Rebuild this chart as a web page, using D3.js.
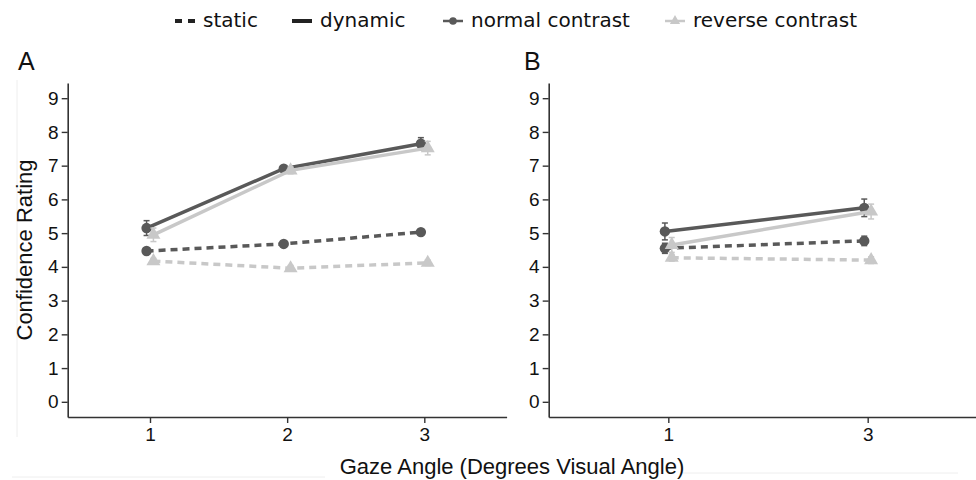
<!DOCTYPE html>
<html>
<head>
<meta charset="utf-8">
<script src="https://cdn.jsdelivr.net/npm/d3@7"></script>
<style>
  html, body { margin: 0; padding: 0; background: #fff; }
  svg { display: block; }
</style>
</head>
<body>
<svg id="chart" width="976" height="480"></svg>
<script>
// ---------- data ----------
const panelA_x = [1, 2, 3];
const panelB_x = [1, 3];
const yTicks = [0, 1, 2, 3, 4, 5, 6, 7, 8, 9];

// Panel A
const A_static_normal   = [4.47, 4.68, 5.03];
const A_static_reverse  = [4.17, 3.96, 4.12];
const A_dynamic_normal  = [5.15, 6.91, 7.65];
const A_dynamic_reverse = [4.95, 6.86, 7.52];
const A_err_static_normal   = [0.08, 0.08, 0.08];
const A_err_static_reverse  = [0.08, 0.08, 0.08];
const A_err_dynamic_normal  = [0.22, 0.09, 0.18];
const A_err_dynamic_reverse = [0.20, 0.10, 0.20];

// Panel B
const B_static_normal   = [4.55, 4.77];
const B_static_reverse  = [4.27, 4.20];
const B_dynamic_normal  = [5.05, 5.75];
const B_dynamic_reverse = [4.65, 5.64];
const B_err_static_normal   = [0.15, 0.14];
const B_err_static_reverse  = [0.10, 0.10];
const B_err_dynamic_normal  = [0.25, 0.26];
const B_err_dynamic_reverse = [0.22, 0.22];

const legendLabels = ["static", "dynamic", "normal contrast", "reverse contrast"];
const panelLabels = ["A", "B"];
const xTitle = "Gaze Angle (Degrees Visual Angle)";
const yTitle = "Confidence Rating";

// ---------- style ----------
const colNormal = "#595959";
const colReverse = "#c8c8c8";
const axisCol = "#333333";
const dash = "7,5";
const sans = "'Liberation Sans', Arial, sans-serif";

const svg = d3.select("#chart");

// faint scan artifacts from the source figure
const faint = svg.append("g").attr("stroke", "#eeeeee").attr("stroke-width", 1);
faint.append("line").attr("x1", 17).attr("x2", 17).attr("y1", 80).attr("y2", 437);
faint.append("line").attr("x1", 12).attr("x2", 325).attr("y1", 477).attr("y2", 477);
faint.append("line").attr("x1", 683).attr("x2", 958).attr("y1", 473).attr("y2", 473);

const yScale = d3.scaleLinear().domain([-0.45, 9.45]).range([417, 83]);

function panel(cfg) {
  const g = svg.append("g");
  const x = d3.scaleLinear().domain(cfg.xDomain).range(cfg.xRange);

  // axes
  const yAxis = d3.axisLeft(yScale).tickValues(yTicks).tickSize(6).tickPadding(3).tickSizeOuter(0);
  const gy = g.append("g").attr("transform", `translate(${cfg.xRange[0]},0)`).call(yAxis);
  const xAxis = d3.axisBottom(x).tickValues(cfg.xs).tickFormat(d3.format("d")).tickSize(6).tickPadding(5).tickSizeOuter(0);
  const gx = g.append("g").attr("transform", `translate(0,${yScale.range()[0]})`).call(xAxis);
  [gx, gy].forEach(a => {
    a.select(".domain").attr("stroke", axisCol).attr("stroke-width", 1.6);
    a.selectAll(".tick line").attr("stroke", axisCol).attr("stroke-width", 1.4);
    a.selectAll(".tick text").attr("fill", "#111").style("font-family", sans).style("font-size", "19px");
  });

  // panel label
  g.append("text").attr("x", cfg.labelX).attr("y", 70)
    .style("font-family", sans).style("font-size", "25px").attr("fill", "#111")
    .text(cfg.label);

  const dodge = 0.025 * (cfg.xDomain[1] - cfg.xDomain[0]) / 3.2;
  const series = [
    {vals: cfg.sn, err: cfg.esn, col: colNormal, dashed: true, shape: "circle", off: -dodge},
    {vals: cfg.dn, err: cfg.edn, col: colNormal, dashed: false, shape: "circle", off: -dodge},
    {vals: cfg.sr, err: cfg.esr, col: colReverse, dashed: true, shape: "triangle", off: dodge},
    {vals: cfg.dr, err: cfg.edr, col: colReverse, dashed: false, shape: "triangle", off: dodge}
  ];
  const line = d3.line().x(d => x(d.x)).y(d => yScale(d.y));
  series.forEach(s => {
    const pts = cfg.xs.map((xv, i) => ({x: xv + s.off, y: s.vals[i], e: s.err[i]}));
    g.append("path").datum(pts).attr("d", line).attr("fill", "none")
      .attr("stroke", s.col).attr("stroke-width", 3.5)
      .attr("stroke-dasharray", s.dashed ? dash : null);
    // error bars
    const eb = g.append("g").attr("stroke", s.col).attr("stroke-width", 1.5);
    pts.forEach(p => {
      eb.append("line").attr("x1", x(p.x)).attr("x2", x(p.x)).attr("y1", yScale(p.y - p.e)).attr("y2", yScale(p.y + p.e));
      [p.y - p.e, p.y + p.e].forEach(v => {
        eb.append("line").attr("x1", x(p.x) - 3).attr("x2", x(p.x) + 3).attr("y1", yScale(v)).attr("y2", yScale(v));
      });
    });
    const sym = d3.symbol().type(s.shape === "circle" ? d3.symbolCircle : d3.symbolTriangle).size(85);
    g.selectAll(null).data(pts).enter().append("path")
      .attr("d", sym).attr("transform", d => `translate(${x(d.x)},${yScale(d.y)})`)
      .attr("fill", s.col);
  });
}

panel({
  label: panelLabels[0], labelX: 18,
  xs: panelA_x, xDomain: [0.4, 3.6], xRange: [67.7, 506.6],
  sn: A_static_normal, sr: A_static_reverse, dn: A_dynamic_normal, dr: A_dynamic_reverse,
  esn: A_err_static_normal, esr: A_err_static_reverse, edn: A_err_dynamic_normal, edr: A_err_dynamic_reverse
});
panel({
  label: panelLabels[1], labelX: 524,
  xs: panelB_x, xDomain: [-0.2, 4.2], xRange: [548.7, 987.3],
  sn: B_static_normal, sr: B_static_reverse, dn: B_dynamic_normal, dr: B_dynamic_reverse,
  esn: B_err_static_normal, esr: B_err_static_reverse, edn: B_err_dynamic_normal, edr: B_err_dynamic_reverse
});

// axis titles
svg.append("text").attr("x", 512).attr("y", 474).attr("text-anchor", "middle")
  .style("font-family", sans).style("font-size", "22px").attr("fill", "#111")
  .text(xTitle);
svg.append("text").attr("transform", "translate(32,250) rotate(-90)").attr("text-anchor", "middle")
  .style("font-family", sans).style("font-size", "22px").attr("fill", "#111")
  .text(yTitle);

// legend
const legX = [175, 292, 443, 665];
const legY = 21;
const lg = svg.append("g");
const legendItems = [
  {col: "#222", dashed: true, shape: null},
  {col: "#222", dashed: false, shape: null},
  {col: colNormal, dashed: false, shape: "circle", thin: true},
  {col: colReverse, dashed: false, shape: "triangle", thin: true}
];
legendItems.forEach((it, i) => {
  const x0 = legX[i];
  lg.append("line").attr("x1", x0).attr("x2", x0 + 20).attr("y1", legY).attr("y2", legY)
    .attr("stroke", it.col).attr("stroke-width", it.thin ? 2.5 : 4)
    .attr("stroke-dasharray", it.dashed ? "7,6" : null);
  if (it.shape) {
    lg.append("path").attr("d", d3.symbol().type(it.shape === "circle" ? d3.symbolCircle : d3.symbolTriangle).size(45)())
      .attr("transform", `translate(${x0 + 10},${legY})`).attr("fill", it.col);
  }
  lg.append("text").attr("x", x0 + 28).attr("y", legY + 6)
    .style("font-family", "'DejaVu Sans', Verdana, sans-serif").style("font-size", "20px").attr("fill", "#111")
    .text(legendLabels[i]);
});
</script>
</body>
</html>
